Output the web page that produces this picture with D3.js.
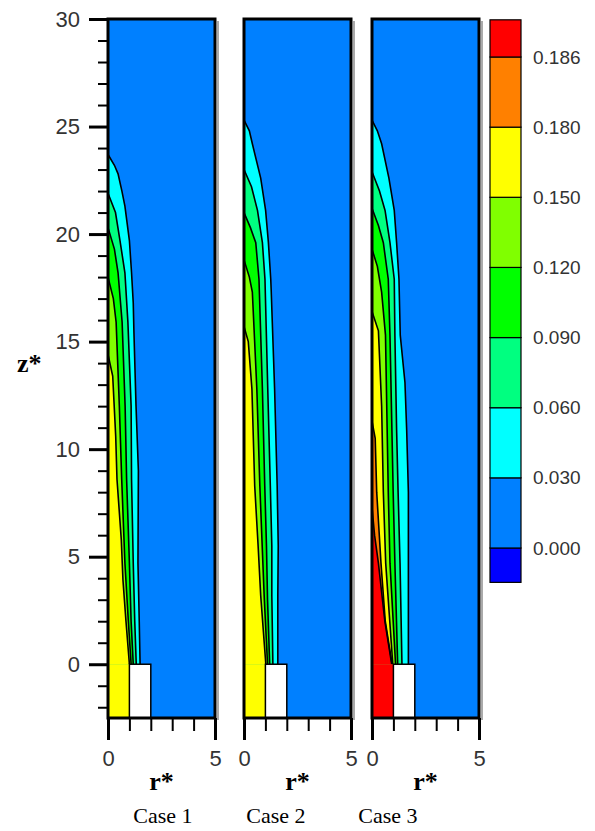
<!DOCTYPE html>
<meta charset="utf-8">
<style>
body{ margin:0; background:#fff; }
.tick text{ font-family:"Liberation Sans", Arial, sans-serif; fill:#333; }
.lab{ font-family:"Liberation Serif","Times New Roman",serif; fill:#000; }
</style>
<svg width="595" height="831"></svg>
<script src="https://d3js.org/d3.v7.min.js"></script>
<script>

// contour levels and legend
var levels = [0, 0.03, 0.06, 0.09, 0.12, 0.15, 0.18, 0.186];
var levelLabels = ["0.000","0.030","0.060","0.090","0.120","0.150","0.180","0.186"];
var bandColors = ["#0000ff","#0080ff","#00ffff","#00ff80","#00ff00","#80ff00","#ffff00","#ff8000","#ff0000"];

var caseNames = ["Case 1","Case 2","Case 3"];
var zMajor = [0,5,10,15,20,25,30];
var zMinor = d3.range(-2,30).filter(function(d){ return d % 5 != 0; });
var rMajor = [0,5];
var rMinor = [1,2,3,4];

// value in the inlet (r<1, z<0) and outside the plume
var inletValue = [0.16, 0.16, 0.19];
var ambientValue = 0.01;
var nozzleR = [1, 2];

// contour boundaries, [z*, r*] from the axis down to z*=0
var case1 = [
  {level:0.03, pts:[[23.7,0],[23.2,0.3],[22.8,0.47],[22,0.65],[21.3,0.79],[19.7,1.0],[18.2,1.1],[16.8,1.18],[15.5,1.21],[12,1.31],[9,1.42],[4.7,1.4],[2,1.46],[0,1.5]]},
  {level:0.06, pts:[[21.9,0],[21,0.35],[19.7,0.56],[18.2,0.79],[15.9,0.93],[12,1.08],[8.6,1.1],[4.7,1.18],[2,1.25],[0,1.32]]},
  {level:0.09, pts:[[20.3,0],[19.3,0.3],[18.2,0.47],[15.9,0.66],[12,0.8],[8.6,0.87],[4.7,1.0],[2,1.08],[0,1.18]]},
  {level:0.12, pts:[[18.0,0],[17,0.25],[15.9,0.38],[12,0.53],[8.6,0.64],[4.7,0.79],[2,0.95],[0,1.08]]},
  {level:0.15, pts:[[14.4,0],[13.4,0.22],[12.2,0.28],[10.6,0.36],[8.6,0.42],[5.8,0.62],[3.9,0.7],[2,0.84],[0,1.0]]}
];

var case2 = [
  {level:0.03, pts:[[25.3,0],[24.8,0.25],[24.2,0.39],[22.6,0.78],[21.1,1.01],[19.6,1.14],[17.9,1.25],[17.4,1.27],[12.8,1.43],[8.3,1.55],[5.5,1.6],[3.2,1.58],[0,1.58]]},
  {level:0.06, pts:[[23.0,0],[22.2,0.35],[21.1,0.63],[19.6,0.86],[17.9,0.98],[12.8,1.11],[8.3,1.23],[5.5,1.3],[3.2,1.3],[0,1.35]]},
  {level:0.09, pts:[[21.0,0],[20.3,0.3],[19.6,0.55],[17.9,0.7],[12.8,0.86],[8.3,0.97],[5.5,1.05],[3,1.1],[0,1.2]]},
  {level:0.12, pts:[[18.8,0],[18,0.25],[17.3,0.39],[12.8,0.6],[8.3,0.74],[5.5,0.85],[3,0.95],[0,1.1]]},
  {level:0.15, pts:[[15.7,0],[15,0.2],[12.8,0.37],[8.3,0.5],[5.5,0.66],[3.2,0.78],[0,1.02]]}
];

var case3 = [
  {level:0.03, pts:[[25.3,0],[24.8,0.25],[24.2,0.45],[22.6,0.79],[21.1,1.04],[19.6,1.15],[17.9,1.26],[15.3,1.32],[13.1,1.54],[10.9,1.62],[8,1.7],[4.7,1.7],[0,1.7]]},
  {level:0.06, pts:[[22.9,0],[22,0.35],[21.1,0.61],[19.6,0.84],[17.9,1.04],[15.3,1.07],[10.9,1.15],[8,1.22],[4.7,1.31],[0,1.4]]},
  {level:0.09, pts:[[21.2,0],[20.4,0.3],[19.6,0.53],[17.9,0.76],[15.3,0.84],[8,0.99],[4.7,1.07],[0,1.2]]},
  {level:0.12, pts:[[19.3,0],[18.5,0.25],[17.3,0.45],[15.3,0.63],[8,0.76],[4.7,0.84],[0,1.1]]},
  {level:0.15, pts:[[16.4,0],[15.5,0.3],[12,0.45],[8,0.53],[4.7,0.64],[0,0.97]]},
  {level:0.18, pts:[[11.3,0],[10.5,0.15],[8,0.22],[4.7,0.42],[2,0.62],[0,0.94]]},
  {level:0.186, pts:[[7.3,0],[6,0.12],[4.7,0.3],[2,0.6],[0,0.92]]}
];

var svg = d3.select("svg");

var color = d3.scaleThreshold().domain(levels).range(bandColors);
var y = d3.scaleLinear().domain([-2.5, 30]).range([718, 19]);
var panelLeft = [108, 244, 372], panelW = 107;
var labelX = [163, 276, 388];

[case1, case2, case3].forEach(function(contours, i){
  var x = d3.scaleLinear().domain([0, 5]).range([panelLeft[i], panelLeft[i] + panelW]);
  var g = svg.append("g");
  var line = d3.line().x(function(d){ return x(d[1]); }).y(function(d){ return y(d[0]); });

  // grey shadow on right
  g.append("line")
    .attr("x1", x(5) + 3).attr("x2", x(5) + 3)
    .attr("y1", y(30) + 2).attr("y2", y(-2.5) + 2)
    .attr("stroke", "#aaa").attr("stroke-width", 2);

  g.append("rect")
    .attr("x", x(0)).attr("y", y(30))
    .attr("width", x(5) - x(0)).attr("height", y(-2.5) - y(30))
    .attr("fill", color(ambientValue));

  contours.forEach(function(c){
    g.append("path")
      .attr("d", line(c.pts.concat([[0, 0]])) + "Z")
      .attr("fill", color(c.level));
  });
  contours.forEach(function(c){
    g.append("path")
      .attr("d", line(c.pts))
      .attr("fill", "none")
      .attr("stroke", "#000")
      .attr("stroke-width", 1.6);
  });

  // inlet and nozzle wall
  g.append("rect")
    .attr("x", x(0)).attr("y", y(0))
    .attr("width", x(nozzleR[0]) - x(0)).attr("height", y(-2.5) - y(0))
    .attr("fill", color(inletValue[i]));
  g.append("rect")
    .attr("x", x(nozzleR[0])).attr("y", y(0))
    .attr("width", x(nozzleR[1]) - x(nozzleR[0])).attr("height", y(-2.5) - y(0))
    .attr("fill", "#fff").attr("stroke", "#000").attr("stroke-width", 1.5);

  g.append("rect")
    .attr("x", x(0)).attr("y", y(30))
    .attr("width", x(5) - x(0)).attr("height", y(-2.5) - y(30))
    .attr("fill", "none").attr("stroke", "#000").attr("stroke-width", 3);

  // r axis
  var ax = g.append("g").attr("transform", "translate(0," + y(-2.5) + ")");
  ax.append("g")
    .call(d3.axisBottom(x).tickValues(rMinor).tickSize(13).tickFormat(""))
    .call(function(s){ s.select(".domain").remove(); s.selectAll("line").attr("stroke-width", 2); });
  ax.append("g")
    .call(d3.axisBottom(x).tickValues(rMajor).tickSize(22).tickPadding(10).tickFormat(d3.format("d")))
    .call(function(s){
      s.select(".domain").remove();
      s.selectAll("line").attr("stroke-width", 3);
      s.selectAll("text").style("font-size", "22px");
    });

  g.append("text").attr("class", "lab")
    .attr("x", (x(0) + x(5)) / 2).attr("y", 790)
    .attr("text-anchor", "middle")
    .style("font-size", "26px").style("font-weight", "bold")
    .text("r*");

  g.append("text").attr("class", "lab")
    .attr("x", labelX[i]).attr("y", 823)
    .attr("text-anchor", "middle")
    .style("font-size", "22px")
    .text(caseNames[i]);
});

// z axis on first panel
var zAx = svg.append("g").attr("transform", "translate(" + panelLeft[0] + ",0)");
zAx.append("g")
  .call(d3.axisLeft(y).tickValues(zMinor).tickSize(10).tickFormat(""))
  .call(function(s){ s.select(".domain").remove(); s.selectAll("line").attr("stroke-width", 2); });
zAx.append("g")
  .call(d3.axisLeft(y).tickValues(zMajor).tickSize(19).tickPadding(9).tickFormat(d3.format("d")))
  .call(function(s){
    s.select(".domain").remove();
    s.selectAll("line").attr("stroke-width", 3);
    s.selectAll("text").style("font-size", "22px");
  });

svg.append("text").attr("class", "lab")
  .attr("x", 17).attr("y", 372)
  .style("font-size", "26px").style("font-weight", "bold")
  .text("z*");

// colour legend
var cb = d3.scaleLinear().domain([0, 7]).range([548, 57]);
var bandEdges = [-0.49, 0, 1, 2, 3, 4, 5, 6, 7, 7.53];
var legend = svg.append("g");
legend.selectAll("rect")
  .data(bandColors)
  .enter().append("rect")
  .attr("x", 490).attr("width", 31)
  .attr("y", function(d, k){ return cb(bandEdges[k + 1]); })
  .attr("height", function(d, k){ return cb(bandEdges[k]) - cb(bandEdges[k + 1]); })
  .attr("fill", function(d){ return d; })
  .attr("stroke", "#000").attr("stroke-width", 1.2);

legend.append("g")
  .attr("transform", "translate(521,0)")
  .call(d3.axisRight(cb).tickValues(d3.range(levels.length)).tickSize(0).tickPadding(12)
    .tickFormat(function(d){ return levelLabels[d]; }))
  .call(function(s){
    s.select(".domain").remove();
    s.selectAll("text").style("font-size", "19px");
  });

</script>
